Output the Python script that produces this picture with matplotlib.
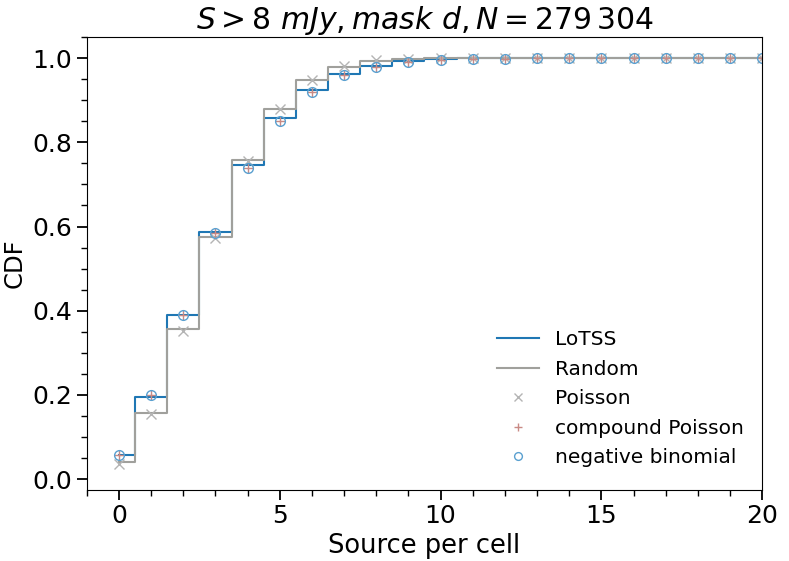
import numpy as np
import matplotlib
matplotlib.use('Agg')
import matplotlib.pyplot as plt
from matplotlib.ticker import MultipleLocator, AutoMinorLocator

# counts per cell
k = list(range(0, 21))

# empirical CDFs
cdf_lotss = [0.057, 0.195, 0.389, 0.586, 0.746, 0.858, 0.925, 0.962, 0.982, 0.992,
             0.998, 1.0, 1.0, 1.0, 1.0, 1.0, 1.0, 1.0, 1.0, 1.0, 1.0]
cdf_random = [0.040, 0.157, 0.357, 0.576, 0.758, 0.878, 0.947, 0.980, 0.994, 0.998,
              1.0, 1.0, 1.0, 1.0, 1.0, 1.0, 1.0, 1.0, 1.0, 1.0, 1.0]

# model CDFs
cdf_poisson = [0.037, 0.155, 0.353, 0.573, 0.756, 0.879, 0.948, 0.981, 0.995, 0.999,
               1.0, 1.0, 1.0, 1.0, 1.0, 1.0, 1.0, 1.0, 1.0, 1.0, 1.0]
cdf_compound = [0.058, 0.199, 0.391, 0.585, 0.740, 0.851, 0.920, 0.959, 0.980, 0.991,
                0.996, 0.998, 0.999, 1.0, 1.0, 1.0, 1.0, 1.0, 1.0, 1.0, 1.0]
cdf_negbin = [0.058, 0.199, 0.391, 0.585, 0.740, 0.851, 0.920, 0.959, 0.980, 0.991,
              0.996, 0.998, 0.999, 1.0, 1.0, 1.0, 1.0, 1.0, 1.0, 1.0, 1.0]

fig = plt.figure(figsize=(7.89, 5.61), dpi=100)
ax = fig.add_axes([0.110, 0.127, 0.856, 0.807])

ax.step(k, cdf_lotss, where='mid', color='#1f77b4', lw=1.5, label='LoTSS')
ax.step(k, cdf_random, where='mid', color='#a0a09c', lw=1.5, label='Random')
ax.plot(k, cdf_poisson, 'x', color='#b4b4b4', ms=7, mew=1.0, label='Poisson')
ax.plot(k, cdf_compound, '+', color='#c98a85', ms=7, mew=1.0, label='compound Poisson')
ax.plot(k, cdf_negbin, 'o', mfc='none', mec='#5aa0d0', ms=7, mew=1.0,
        label='negative binomial')

ax.set_xlim(-1, 20)
ax.set_ylim(-0.025, 1.05)
ax.xaxis.set_major_locator(MultipleLocator(5))
ax.xaxis.set_minor_locator(MultipleLocator(1))
ax.yaxis.set_major_locator(MultipleLocator(0.2))
ax.yaxis.set_minor_locator(AutoMinorLocator(4))
ax.tick_params(which='major', length=7, width=1.3, labelsize=18)
ax.tick_params(which='minor', length=4, width=1.0)

ax.set_xlabel('Source per cell', fontsize=18.5, labelpad=3)
ax.set_ylabel('CDF', fontsize=17.5)
ax.set_title(r'$S > 8\ mJy, mask\ d, N = 279\,304$', fontsize=21.5, pad=5)

leg = ax.legend(loc='lower right', frameon=False, fontsize=14.5,
                bbox_to_anchor=(1.0, 0.01), handlelength=2.1,
                labelspacing=0.52, markerscale=0.8)

fig.savefig('out.png', dpi=100)
